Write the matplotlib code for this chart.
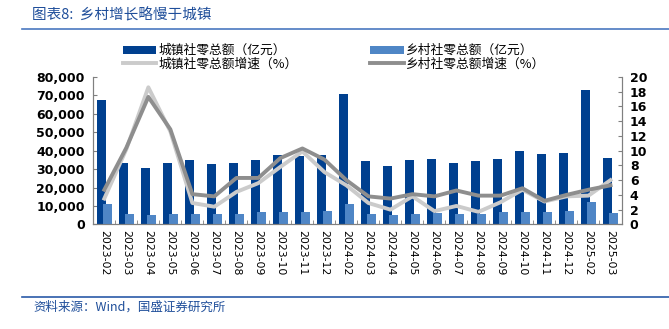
import matplotlib.pyplot as plt
import numpy as np
from matplotlib.ticker import FuncFormatter, MultipleLocator

plt.rcParams['font.family'] = ['Noto Sans CJK SC', 'DejaVu Sans']

months = ['2023-02', '2023-03', '2023-04', '2023-05', '2023-06', '2023-07',
          '2023-08', '2023-09', '2023-10', '2023-11', '2023-12', '2024-02',
          '2024-03', '2024-04', '2024-05', '2024-06', '2024-07', '2024-08',
          '2024-09', '2024-10', '2024-11', '2024-12', '2025-02', '2025-03']
urban_total = [67400, 33300, 30800, 33500, 35100, 32600, 33500, 34700, 37900,
               37000, 37600, 70900, 34400, 31500, 34700, 35600, 33100, 34200,
               35600, 39900, 38100, 39000, 72800, 36200]
rural_total = [10800, 5600, 5000, 5600, 5900, 5400, 5600, 6500, 6500, 6500,
               7200, 11300, 5800, 5200, 5800, 6300, 5800, 5800, 6700, 6800,
               6800, 7200, 12100, 6100]
urban_growth = [3.5, 10.2, 18.6, 12.6, 2.9, 2.4, 4.4, 5.6, 7.8, 9.9, 7.1, 5.3,
                2.9, 2.0, 3.8, 1.8, 2.5, 1.7, 3.0, 4.7, 3.1, 3.8, 3.9, 6.0]
rural_growth = [4.7, 10.4, 17.3, 12.9, 4.1, 3.8, 6.3, 6.3, 9.0, 10.3, 8.8, 6.0,
                3.8, 3.5, 4.1, 3.8, 4.6, 3.9, 3.9, 4.9, 3.2, 4.0, 4.7, 5.3]

dark_blue = '#00408F'
light_blue = '#4F86C6'
blue_text = '#1F4E9A'

fig = plt.figure(figsize=(6.69, 3.29), dpi=100)
ax = fig.add_axes([0.1395, 0.318, 0.7895, 0.448])
ax2 = ax.twinx()

x = np.arange(len(months))
ax.bar(x - 0.13, urban_total, width=0.40, color=dark_blue, label='城镇社零总额（亿元）', zorder=2)
ax.bar(x + 0.14, rural_total, width=0.43, color=light_blue, label='乡村社零总额（亿元）', zorder=3)
ax2.plot(x, urban_growth, color='#CBCBCB', lw=2.8, label='城镇社零总额增速（%）', zorder=4)
ax2.plot(x, rural_growth, color='#8E8E8E', lw=2.8, label='乡村社零总额增速（%）', zorder=5)

ax.set_xlim(-0.5, len(months) - 0.5)
ax.set_ylim(0, 80000)
ax2.set_ylim(0, 20)
ax.yaxis.set_major_locator(MultipleLocator(10000))
ax2.yaxis.set_major_locator(MultipleLocator(2))
ax.yaxis.set_major_formatter(FuncFormatter(lambda v, p: f'{int(v):,}'))

ax.set_xticks(x)
ax.set_xticklabels(months, rotation=-90, fontsize=7.8, family='DejaVu Sans')
ax.set_xticks(np.arange(-0.5, len(months)), minor=True)
ax.tick_params(axis='x', which='major', length=0, pad=4)
ax.tick_params(axis='x', which='minor', length=3, direction='in', color='#808080')
ax.tick_params(axis='y', length=3, direction='in', color='#808080', pad=6)
ax2.tick_params(axis='y', length=3, direction='in', color='#808080', pad=6)
for lab in ax.get_yticklabels() + ax2.get_yticklabels():
    lab.set_fontweight('bold')
    lab.set_fontsize(9)
    lab.set_family('DejaVu Sans')

for a in (ax, ax2):
    a.spines['top'].set_visible(False)
    for s in ('left', 'right', 'bottom'):
        a.spines[s].set_color('#808080')
        a.spines[s].set_linewidth(0.8)
ax.set_zorder(ax2.get_zorder() - 1)
ax2.patch.set_visible(False)
ax.patch.set_visible(False)

h1, l1 = ax.get_legend_handles_labels()
h2, l2 = ax2.get_legend_handles_labels()
handles = [h1[0], h2[0], h1[1], h2[1]]
labels = [l1[0], l2[0], l1[1], l2[1]]
fig.legend(handles, labels, ncol=2, loc='upper left', bbox_to_anchor=(0.184, 0.866),
           frameon=False, fontsize=9.2, handlelength=2.6, handleheight=0.6,
           columnspacing=5.7, labelspacing=0.05, handletextpad=0.15,
           borderpad=0, borderaxespad=0)

fig.text(0.048, 0.954, '图表8:  乡村增长略慢于城镇', color=blue_text, fontsize=10.5,
         va='center', ha='left')
fig.add_artist(plt.Line2D([0.033, 1.0], [0.911, 0.911], color='#4A78C0', lw=1.2))
fig.add_artist(plt.Line2D([0.033, 1.0], [0.096, 0.096], color='#2A5AA8', lw=1.2))
fig.text(0.05, 0.067, '资料来源：Wind，国盛证券研究所', color=blue_text, fontsize=9,
         va='center', ha='left')

fig.savefig('out.png', dpi=100)
